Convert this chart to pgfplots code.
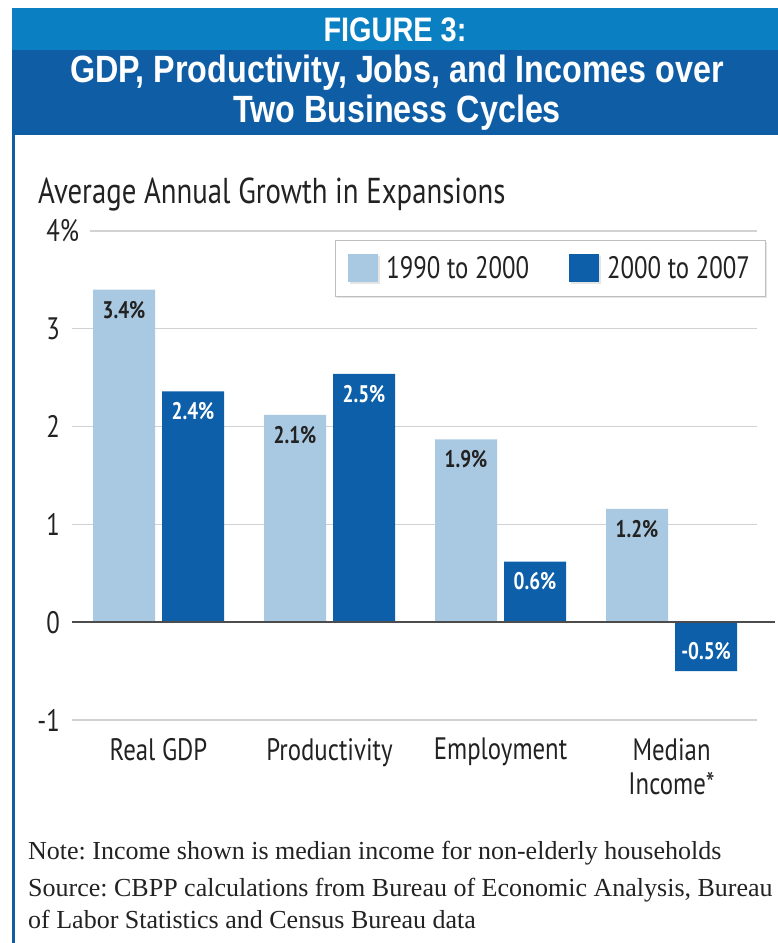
\documentclass[border=0pt]{standalone}
\usepackage{pgfplots}
\pgfplotsset{compat=1.18}
\usepackage{pgfplotstable}
\usepackage{fontspec}
\usetikzlibrary{shadows}
\setmainfont{Liberation Serif}
\newfontfamily\myr[FakeStretch=0.8]{PT Sans}
\newfontfamily\hdr[FakeStretch=0.85]{Liberation Sans}
\frenchspacing

\definecolor{lightbar}{HTML}{A9C8E1}
\definecolor{darkbar}{HTML}{0C5FA8}
\definecolor{band1}{HTML}{0A80C2}
\definecolor{band2}{HTML}{0F5EA5}
\definecolor{gridc}{HTML}{D2D2D2}
\definecolor{txt}{HTML}{222222}

% 1990 to 2000
\pgfplotstableread{
x y
0 3.40
1 2.12
2 1.87
3 1.16
}\early
% 2000 to 2007
\pgfplotstableread{
x y
0 2.36
1 2.54
2 0.62
3 -0.50
}\late

\begin{document}
\begin{tikzpicture}[x=1pt,y=1pt]
\path[use as bounding box] (0,0) rectangle (778,-943);
% header
\fill[band1] (12,-8) rectangle (778,-50);
\fill[band2] (12,-50) rectangle (778,-135);
\fill[band2] (12,-135) rectangle (15,-943);
\node[text=white, font=\hdr\bfseries\fontsize{34}{34}\selectfont] at (395,-30) {FIGURE 3:};
\node[text=white, align=center, font=\hdr\bfseries\fontsize{38}{40}\selectfont] at (397,-93)
  {GDP, Productivity, Jobs, and Incomes over\\Two Business Cycles};
\node[anchor=base west, inner sep=0pt, text=txt, font=\myr\fontsize{36}{36}\selectfont] at (38,-203)
  {Average Annual Growth in Expansions};

\begin{axis}[
  at={(72pt,-720pt)}, anchor=south west,
  scale only axis, width=703pt, height=489pt,
  xmin=-0.506, xmax=3.605, ymin=-1, ymax=4,
  ybar=7pt, bar width=62pt,
  clip=false,
  axis line style={draw=none}, major tick length=0pt,
  xtick={0,1,2,3},
  xticklabels={Real GDP, Productivity, Employment, {Median\\Income*}},
  xticklabel style={font=\myr\fontsize{31}{34}\selectfont, align=center,
    anchor=north, inner sep=0pt, yshift=-18pt, text=txt},
  ytick={-1,0,1,2,3,4},
  yticklabels={-1,0,1,2,3,4\rlap{\%}},
  yticklabel style={font=\myr\fontsize{31}{31}\selectfont, anchor=east,
    inner sep=0pt, xshift=-12pt, text=txt},
  legend style={at={(0.986,0.982)}, anchor=north east, draw=gray!50, fill=white,
    drop shadow={shadow xshift=2pt, shadow yshift=-2pt, fill=gray!40},
    legend columns=2, inner xsep=13pt, inner ysep=14pt,
    font=\myr\fontsize{31}{31}\selectfont, text=txt,
    /tikz/every odd column/.append style={column sep=6pt},
    /tikz/every even column/.append style={column sep=38pt}},
  visualization depends on={y \as \rawy},
  nodes near coords={\pgfmathprintnumber[assume math mode=true,fixed,fixed zerofill,precision=1]{\pgfplotspointmeta}\%},
  every node near coord/.append style={font=\myr\bfseries\fontsize{24}{24}\selectfont,
    anchor=center, yshift={(\rawy<0 ? 20 : -20)}, inner sep=0pt},
]
% gridlines
\draw[gridc, line width=1.2pt] ([xshift=18pt]axis cs:-0.506,4) -- ([xshift=-18pt]axis cs:3.605,4);
\draw[gridc, line width=1.2pt] (axis cs:-0.506,3) -- ([xshift=-18pt]axis cs:3.605,3);
\draw[gridc, line width=1.2pt] (axis cs:-0.506,2) -- ([xshift=-18pt]axis cs:3.605,2);
\draw[gridc, line width=1.2pt] (axis cs:-0.506,1) -- ([xshift=-18pt]axis cs:3.605,1);
\draw[gridc, line width=1.2pt] (axis cs:-0.506,-1) -- ([xshift=-18pt]axis cs:3.605,-1);

\addplot[fill=lightbar, draw=none,
  every node near coord/.append style={text=txt},
  legend image code/.code={\fill[lightbar] (0pt,-14pt) rectangle (30pt,14pt);}]
  table[x=x, y=y] {\early};
\addlegendentry{1990 to 2000}
\addplot[fill=darkbar, draw=none,
  every node near coord/.append style={text=white},
  legend image code/.code={\fill[darkbar] (0pt,-14pt) rectangle (30pt,14pt);}]
  table[x=x, y=y] {\late};
\addlegendentry{2000 to 2007}

\draw[black!70, line width=1.5pt] (axis cs:-0.506,0) -- (axis cs:3.605,0);
\end{axis}

\node[anchor=base west, inner sep=0pt, text=txt, font=\fontsize{26}{31}\selectfont] at (28,-859)
  {Note: Income shown is median income for non-elderly households};
\node[anchor=base west, inner sep=0pt, text=txt, font=\fontsize{26}{31}\selectfont] at (28,-896)
  {Source: CBPP calculations from Bureau of Economic Analysis, Bureau};
\node[anchor=base west, inner sep=0pt, text=txt, font=\fontsize{26}{31}\selectfont] at (28,-928)
  {of Labor Statistics and Census Bureau data};
\end{tikzpicture}
\end{document}
